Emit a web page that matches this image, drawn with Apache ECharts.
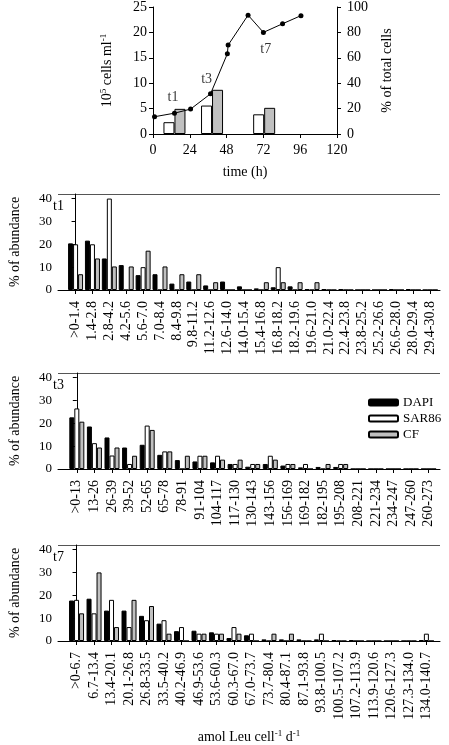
<!DOCTYPE html>
<html><head><meta charset="utf-8">
<script src="https://cdn.jsdelivr.net/npm/echarts@6/dist/echarts.min.js"></script>
<style>html,body{margin:0;padding:0;background:#fff}#c{width:449px;height:745px}</style>
</head><body><div id="c"></div>
<script>
// ---- top panel data ----
const timeH = [1, 14, 24.5, 37.5, 48.5, 49, 62, 72, 84.5, 96.5];
const cellsMl = [3.4, 4.1, 4.9, 7.9, 15.8, 17.5, 23.4, 20.0, 21.7, 23.3];
const sampleTimes = [14, 38.5, 72.5];
const sar86Pct = [9.3, 22.4, 15.5];
const cfPct = [19.8, 34.8, 20.6];
const sampleNames = ['t1', 't3', 't7'];

// ---- t1 ----
const t1Cats = ['>0-1.4','1.4-2.8','2.8-4.2','4.2-5.6','5.6-7.0','7.0-8.4','8.4-9.8','9.8-11.2','11.2-12.6','12.6-14.0','14.0-15.4','15.4-16.8','16.8-18.2','18.2-19.6','19.6-21.0','21.0-22.4','22.4-23.8','23.8-25.2','25.2-26.6','26.6-28.0','28.0-29.4','29.4-30.8'];
const t1Dapi  = [20.4, 21.6, 13.8, 10.9, 6.5, 6.9, 2.8, 3.7, 2.0, 3.7, 1.6, 0.7, 1.2, 1.6, 0.4, 0.4, 0.4, 0, 0, 0.4, 0.4, 0];
const t1Sar86 = [20, 20, 40, 0, 10, 0, 0, 0, 0, 0, 0, 0, 10, 0, 0, 0, 0, 0, 0, 0, 0, 0];
const t1Cf    = [6.9, 13.8, 10.3, 10.3, 17.2, 10.3, 6.9, 6.9, 3.4, 0, 0, 3.4, 3.4, 3.4, 3.4, 0, 0, 0, 0, 0, 0, 0];

// ---- t3 ----
const t3Cats = ['>0-13','13-26','26-39','39-52','52-65','65-78','78-91','91-104','104-117','117-130','130-143','143-156','156-169','169-182','182-195','195-208','208-221','221-234','234-247','247-260','260-273'];
const t3Dapi  = [22.6, 18.6, 13.8, 9.4, 10.6, 6.2, 3.9, 3.3, 2.9, 2.2, 1.0, 2.2, 1.5, 0.7, 0.9, 0.9, 0, 0, 0, 0, 0];
const t3Sar86 = [26.5, 11.3, 5.9, 2.2, 19.0, 7.7, 0, 5.8, 5.8, 2.2, 2.2, 5.8, 2.2, 2.2, 0, 2.2, 0, 0, 0, 0, 0];
const t3Cf    = [20.7, 9.4, 9.4, 5.8, 17.1, 7.7, 5.8, 5.8, 4.1, 4.1, 2.2, 4.1, 2.2, 0, 2.2, 2.2, 0, 0, 0, 0, 0];

// ---- t7 ----
const t7Cats = ['>0-6.7','6.7-13.4','13.4-20.1','20.1-26.8','26.8-33.5','33.5-40.2','40.2-46.9','46.9-53.6','53.6-60.3','60.3-67.0','67.0-73.7','73.7-80.4','80.4-87.1','87.1-93.8','93.8-100.5','100.5-107.2','107.2-113.9','113.9-120.6','120.6-127.3','127.3-134.0','134.0-140.7'];
const t7Dapi  = [17.7, 18.5, 13.3, 13.3, 11.0, 7.6, 4.3, 4.5, 3.8, 1.3, 2.5, 0.7, 0.7, 0.7, 0.7, 0.4, 0.4, 0, 0, 0, 0.4];
const t7Sar86 = [18.0, 12.1, 18.0, 6.1, 9.1, 9.1, 6.1, 3.2, 3.2, 6.1, 3.2, 0, 0, 0, 3.2, 0, 0, 0, 0, 0, 3.2];
const t7Cf    = [12.1, 30.0, 6.1, 18.0, 15.3, 3.2, 0, 3.2, 3.2, 3.2, 0, 3.2, 3.2, 0, 0, 0, 0, 0, 0, 0, 0];

const abundTicks = [0, 10, 20, 30, 40];
const seriesNames = ['DAPI', 'SAR86', 'CF'];

const FONT = 'Liberation Serif';
const AX = '#000';
const txt = {fontFamily: FONT, fontSize: 13, color: '#000'};
const txtTop = {fontFamily: FONT, fontSize: 14, color: '#000'};
const catTxt = {fontFamily: FONT, fontSize: 14, color: '#000'};
const supRich = {sup: {fontFamily: FONT, fontSize: 9, color: '#000', verticalAlign: 'top', padding: [0, 0, 7, 0]}};

const chart = echarts.init(document.getElementById('c'), null, {renderer: 'canvas'});

const PW = 392; // plot width of lower panels
const panels = [
  {cats: t1Cats, d: [t1Dapi, t1Sar86, t1Cf], top: 194, h: 96, lo: -1.04, sp: 17.33, name: 't1'},
  {cats: t3Cats, d: [t3Dapi, t3Sar86, t3Cf], top: 373, h: 96, lo: -1.07, sp: 18.05, name: 't3'},
  {cats: t7Cats, d: [t7Dapi, t7Sar86, t7Cf], top: 545, h: 96, lo: -1.06, sp: 17.95, name: 't7'}
];

const grid = [{left: 153, right: 112, top: 5, height: 129}];
const xAxis = [{
  gridIndex: 0, type: 'value', min: 0, max: 120, interval: 24,
  axisLine: {lineStyle: {color: AX}}, axisTick: {length: 4, lineStyle: {color: AX}},
  axisLabel: Object.assign({margin: 9}, txtTop), splitLine: {show: false},
  name: 'time (h)', nameLocation: 'middle', nameGap: 31,
  nameTextStyle: {fontFamily: FONT, fontSize: 14, color: '#000'}
}];
const yAxis = [{
  gridIndex: 0, type: 'value', min: 0, max: 25, interval: 5, position: 'left',
  axisLine: {show: true, lineStyle: {color: AX}}, axisTick: {show: true, length: 4, lineStyle: {color: AX}},
  axisLabel: Object.assign({margin: 6}, txtTop), splitLine: {show: false},
  name: '10{sup|5} cells ml{sup|-1}', nameLocation: 'middle', nameGap: 38, nameRotate: 90,
  nameTextStyle: {fontFamily: FONT, fontSize: 14, color: '#000', rich: supRich}
}, {
  gridIndex: 0, type: 'value', min: 0, max: 100, interval: 20, position: 'right',
  axisLine: {show: true, lineStyle: {color: AX}}, axisTick: {show: true, length: 4, lineStyle: {color: AX}},
  axisLabel: Object.assign({margin: 10}, txtTop), splitLine: {show: false},
  name: '% of total cells', nameLocation: 'middle', nameGap: 43, nameRotate: 90,
  nameTextStyle: {fontFamily: FONT, fontSize: 14, color: '#000'}
}];

const series = [
  {type: 'bar', name: 'SAR86 %', xAxisIndex: 0, yAxisIndex: 1, barWidth: 11, barGap: '0%',
   data: sampleTimes.map((t, i) => [t, sar86Pct[i]]),
   itemStyle: {color: '#fff', borderColor: '#000', borderWidth: 1}},
  {type: 'bar', name: 'CF %', xAxisIndex: 0, yAxisIndex: 1, barWidth: 11, barGap: '0%',
   data: sampleTimes.map((t, i) => [t, cfPct[i]]),
   itemStyle: {color: '#c0c0c0', borderColor: '#000', borderWidth: 1}},
  {type: 'line', name: 'cells', xAxisIndex: 0, yAxisIndex: 0,
   data: timeH.map((t, i) => [t, cellsMl[i]]),
   symbol: 'circle', symbolSize: 5, lineStyle: {color: '#000', width: 1},
   itemStyle: {color: '#000'}, z: 5},
  {type: 'scatter', xAxisIndex: 0, yAxisIndex: 0, symbolSize: 0, silent: true,
   data: [[13, 7.3], [35, 10.8], [73.5, 16.75]].map((p, i) => ({value: p, name: sampleNames[i]})),
   label: {show: true, position: 'inside', formatter: p => p.name, fontFamily: FONT, fontSize: 14, color: '#000'}}
];

const titles = [];
const colors = ['#000', '#fff', '#c0c0c0'];

panels.forEach((p, k) => {
  const gi = k + 1;
  p.hi = p.lo + PW / p.sp;
  grid.push({left: 48, width: PW, top: p.top, height: p.h});
  const idx = p.cats.map((c, i) => i);
  const xa = {
    gridIndex: gi, type: 'value', min: p.lo, max: p.hi, splitLine: {show: false},
    axisLine: {onZero: false, lineStyle: {color: AX}},
    axisTick: {length: 4, customValues: idx, lineStyle: {color: AX}},
    axisLabel: Object.assign({rotate: 90, margin: 11, customValues: idx,
      formatter: v => p.cats[Math.round(v)]}, catTxt)
  };
  if (k === 2) {
    Object.assign(xa, {
      name: 'amol Leu cell{sup|-1} d{sup|-1}', nameLocation: 'middle', nameGap: 88,
      nameTextStyle: {fontFamily: FONT, fontSize: 14, color: '#000', rich: supRich}
    });
  }
  xAxis.push(xa);
  yAxis.push({
    gridIndex: gi, type: 'value', min: 0, max: 42,
    axisLine: {show: true, lineStyle: {color: AX}},
    axisTick: {show: true, length: 4, customValues: abundTicks, lineStyle: {color: AX}},
    axisLabel: Object.assign({margin: 6, customValues: abundTicks}, txt), splitLine: {show: false},
    name: '% of abundance', nameLocation: 'middle', nameGap: 36, nameRotate: 90,
    nameTextStyle: {fontFamily: FONT, fontSize: 14, color: '#000'}
  });
  const xi = xAxis.length - 1, yi = yAxis.length - 1;
  p.d.forEach((arr, s) => {
    series.push({
      type: 'bar', name: seriesNames[s], xAxisIndex: xi, yAxisIndex: yi,
      barWidth: 5, barGap: '0%',
      data: arr.map((v, i) => [i, v]),
      itemStyle: {color: colors[s], borderColor: '#000', borderWidth: 1}
    });
  });
  titles.push({text: p.name, left: 53, top: p.top + 5, padding: 0,
    textStyle: {fontFamily: FONT, fontSize: 14, fontWeight: 'normal', color: '#000'}});
});

chart.setOption({
  animation: false,
  backgroundColor: '#fff',
  title: titles,
  legend: {
    data: seriesNames, orient: 'vertical', left: 368, top: 396, padding: 0,
    itemWidth: 29, itemHeight: 6, itemGap: 3,
    textStyle: {fontFamily: FONT, fontSize: 13, color: '#000'},
    selectedMode: false
  },
  grid: grid, xAxis: xAxis, yAxis: yAxis, series: series
});

// top frame line of each lower panel, placed through the panel's own scales
const frame = panels.map((p, k) => {
  const a = chart.convertToPixel({gridIndex: k + 1}, [p.lo, 42]);
  const b = chart.convertToPixel({gridIndex: k + 1}, [p.hi, 42]);
  return {type: 'line', silent: true,
    shape: {x1: a[0], y1: Math.round(a[1]) + 0.5, x2: b[0], y2: Math.round(b[1]) + 0.5},
    style: {stroke: '#555', lineWidth: 1}};
});
chart.setOption({graphic: frame});
</script></body></html>
